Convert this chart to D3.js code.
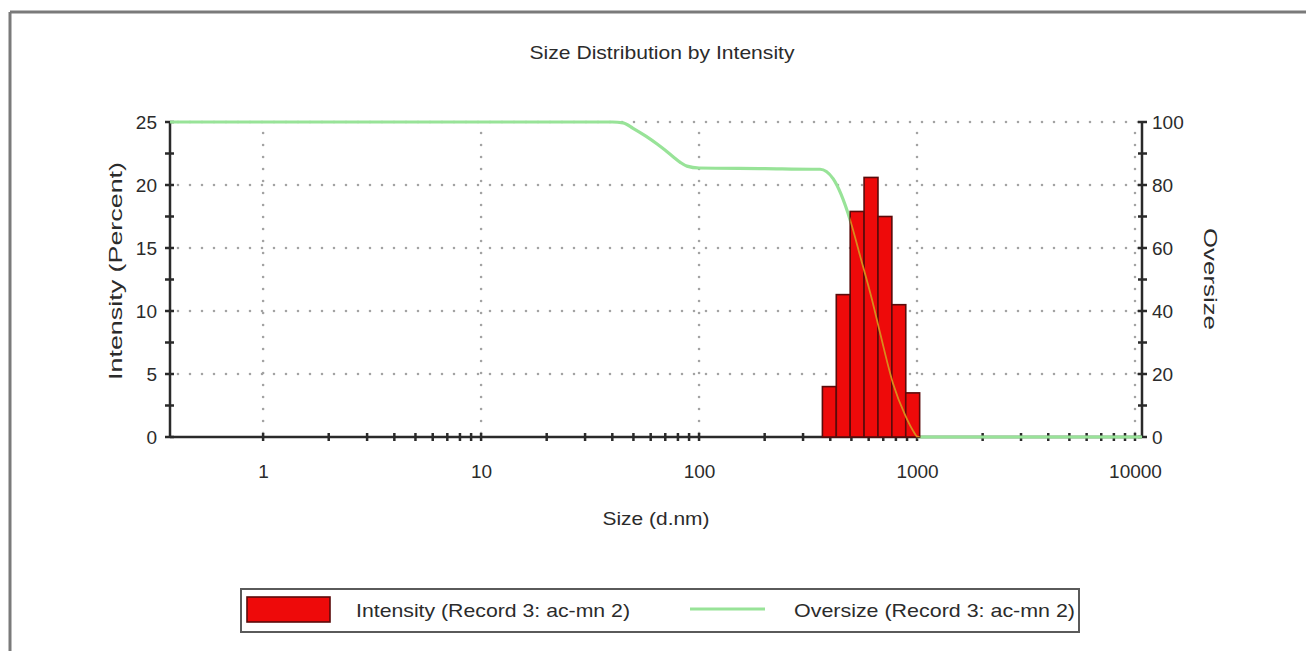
<!DOCTYPE html>
<html>
<head>
<meta charset="utf-8">
<script src="https://cdn.jsdelivr.net/npm/d3@7"></script>
<style>
  html, body { margin: 0; padding: 0; background: #fff; }
  svg { display: block; }
  text { font-family: "Liberation Sans", Arial, sans-serif; fill: #2b2b2b; }
</style>
</head>
<body>
<svg id="chart" width="1306" height="651"></svg>
<script>
// Intensity distribution: bin centre sizes (d.nm) and intensity (%)
const binSizes = [396.1, 458.7, 531.2, 615.1, 712.4, 825.0, 955.4];
const intensity = [4.0, 11.3, 17.9, 20.6, 17.5, 10.5, 3.5];

// Cumulative oversize curve: size (d.nm) and oversize (%)
const oversizeSizes = [0.374, 40, 44.8, 49.8, 57, 64.2, 70, 76, 82, 88, 100, 200, 330, 359, 412, 493, 548, 622, 677, 776, 881, 959, 1011, 2000, 10768];
const oversizeValues = [100, 100, 99.7, 98, 95.5, 93, 91, 89, 87.2, 86, 85.4, 85.2, 85, 85, 82, 69, 57.5, 43.5, 33, 17, 7, 2, 0, 0, 0];

// Axis ticks
const xLabelTicks = [1, 10, 100, 1000, 10000];
const yLeftTicks = [0, 5, 10, 15, 20, 25];
const yRightTicks = [0, 20, 40, 60, 80, 100];

const svg = d3.select("#chart");

const plotLeft = 170, plotRight = 1142, plotTop = 122, plotBottom = 437;
const x = d3.scaleLog().domain([0.374, 10768]).range([plotLeft, plotRight]);
const y = d3.scaleLinear().domain([0, 25]).range([plotBottom, plotTop]);
const y2 = d3.scaleLinear().domain([0, 100]).range([plotBottom, plotTop]);

// outer frame
svg.append("line").attr("x1", 10).attr("x2", 1306).attr("y1", 12).attr("y2", 12)
  .attr("stroke", "#7a7a7a").attr("stroke-width", 3);
svg.append("line").attr("x1", 10).attr("x2", 10).attr("y1", 12).attr("y2", 651)
  .attr("stroke", "#7a7a7a").attr("stroke-width", 3);

// title
svg.append("text").attr("x", 662).attr("y", 59).attr("text-anchor", "middle")
  .attr("font-size", 19).attr("textLength", 265).attr("lengthAdjust", "spacingAndGlyphs")
  .text("Size Distribution by Intensity");

// dotted grid
const grid = svg.append("g").attr("stroke", "#a3a3a3").attr("stroke-width", 2.6)
  .attr("stroke-linecap", "round").attr("stroke-dasharray", "0,12");
grid.selectAll("line.h").data(yLeftTicks.filter(d => d > 0)).join("line")
  .attr("x1", plotLeft + 8).attr("x2", plotRight).attr("y1", d => y(d)).attr("y2", d => y(d));
grid.selectAll("line.v").data(xLabelTicks).join("line")
  .attr("x1", d => x(d)).attr("x2", d => x(d)).attr("y1", plotBottom - 4).attr("y2", plotTop + 8);

// axis lines
const axisColor = "#2a2a2a";
svg.append("line").attr("x1", plotLeft).attr("x2", plotRight).attr("y1", plotBottom).attr("y2", plotBottom)
  .attr("stroke", axisColor).attr("stroke-width", 2.5);
svg.append("line").attr("x1", plotLeft).attr("x2", plotLeft).attr("y1", plotTop).attr("y2", plotBottom)
  .attr("stroke", axisColor).attr("stroke-width", 2.5);
svg.append("line").attr("x1", plotRight).attr("x2", plotRight).attr("y1", plotTop).attr("y2", plotBottom)
  .attr("stroke", axisColor).attr("stroke-width", 2.5);

// tick marks
const xMinor = [];
[1, 10, 100, 1000].forEach(dec => { for (let m = 1; m < 10; m++) xMinor.push(dec * m); });
xMinor.push(10000);
svg.append("g").selectAll("line").data(xMinor).join("line")
  .attr("x1", d => x(d)).attr("x2", d => x(d)).attr("y1", plotBottom - 4).attr("y2", plotBottom + 4)
  .attr("stroke", axisColor).attr("stroke-width", 2.5);
const yTickVals = d3.range(0, 25.01, 2.5);
svg.append("g").selectAll("line").data(yTickVals).join("line")
  .attr("x1", plotLeft - 5).attr("x2", plotLeft + 4).attr("y1", d => y(d)).attr("y2", d => y(d))
  .attr("stroke", axisColor).attr("stroke-width", 2.5);
const y2TickVals = d3.range(0, 100.1, 10);
svg.append("g").selectAll("line").data(y2TickVals).join("line")
  .attr("x1", plotRight - 4).attr("x2", plotRight + 5).attr("y1", d => y2(d)).attr("y2", d => y2(d))
  .attr("stroke", axisColor).attr("stroke-width", 2.5);

// axis labels via d3 axes
const fmt = d3.format("d");
const gx = svg.append("g").attr("transform", `translate(0,${plotBottom})`)
  .call(d3.axisBottom(x).tickValues(xLabelTicks).tickFormat(fmt).tickSize(0).tickPadding(28));
const gy = svg.append("g").attr("transform", `translate(${plotLeft},0)`)
  .call(d3.axisLeft(y).tickValues(yLeftTicks).tickFormat(fmt).tickSize(0).tickPadding(13));
const gy2 = svg.append("g").attr("transform", `translate(${plotRight},0)`)
  .call(d3.axisRight(y2).tickValues(yRightTicks).tickFormat(fmt).tickSize(0).tickPadding(10));
[gx, gy, gy2].forEach(g => {
  g.select(".domain").remove();
  g.selectAll("text").attr("font-size", 19).attr("font-family", "Liberation Sans, Arial, sans-serif").attr("fill", "#2b2b2b");
});

// axis titles
svg.append("text").attr("x", 656).attr("y", 525).attr("text-anchor", "middle")
  .attr("font-size", 19).attr("textLength", 107).attr("lengthAdjust", "spacingAndGlyphs")
  .text("Size (d.nm)");
svg.append("text").attr("transform", "translate(122,271) rotate(-90)").attr("text-anchor", "middle")
  .attr("font-size", 19).attr("textLength", 218).attr("lengthAdjust", "spacingAndGlyphs")
  .text("Intensity (Percent)");
svg.append("text").attr("transform", "translate(1204,279) rotate(90)").attr("text-anchor", "middle")
  .attr("font-size", 19).attr("textLength", 102).attr("lengthAdjust", "spacingAndGlyphs")
  .text("Oversize");

// bin edges as geometric midpoints between neighbouring centres
const edges = [];
for (let i = 0; i <= binSizes.length; i++) {
  if (i === 0) edges.push(binSizes[0] / Math.sqrt(binSizes[1] / binSizes[0]));
  else if (i === binSizes.length) edges.push(binSizes[i - 1] * Math.sqrt(binSizes[i - 1] / binSizes[i - 2]));
  else edges.push(Math.sqrt(binSizes[i - 1] * binSizes[i]));
}
const bins = binSizes.map((s, i) => ({ size: s, value: intensity[i], x0: edges[i], x1: edges[i + 1] }));

// oversize curve
const curvePts = oversizeSizes.map((s, i) => [x(s), y2(oversizeValues[i])]);
const line = d3.line().curve(d3.curveMonotoneX);

svg.append("path").attr("d", line(curvePts)).attr("fill", "none")
  .attr("stroke", "#98e398").attr("stroke-width", 3.2).attr("stroke-linejoin", "round");

// intensity bars
svg.append("g").selectAll("rect").data(bins).join("rect")
  .attr("x", d => x(d.x0)).attr("width", d => x(d.x1) - x(d.x0))
  .attr("y", d => y(d.value)).attr("height", d => y(0) - y(d.value))
  .attr("fill", "#ee0a0a").attr("stroke", "#5a0b0b").attr("stroke-width", 1.6);

// oversize curve where it crosses the bars
const clip = svg.append("clipPath").attr("id", "barsClip");
clip.selectAll("rect").data(bins).join("rect")
  .attr("x", d => x(d.x0)).attr("width", d => x(d.x1) - x(d.x0))
  .attr("y", d => y(d.value)).attr("height", d => y(0) - y(d.value));
svg.append("path").attr("d", line(curvePts)).attr("fill", "none")
  .attr("clip-path", "url(#barsClip)")
  .attr("stroke", "#d98a1c").attr("stroke-width", 1.8);

// legend
const lg = svg.append("g");
lg.append("rect").attr("x", 241).attr("y", 589).attr("width", 838).attr("height", 43)
  .attr("fill", "#fff").attr("stroke", "#5a5a5a").attr("stroke-width", 2);
lg.append("rect").attr("x", 247).attr("y", 597).attr("width", 83).attr("height", 25)
  .attr("fill", "#ee0a0a").attr("stroke", "#5a0b0b").attr("stroke-width", 1.6);
lg.append("text").attr("x", 356).attr("y", 617).attr("font-size", 19)
  .attr("textLength", 274).attr("lengthAdjust", "spacingAndGlyphs")
  .text("Intensity (Record 3: ac-mn 2)");
lg.append("line").attr("x1", 690).attr("x2", 765).attr("y1", 609).attr("y2", 609)
  .attr("stroke", "#98e398").attr("stroke-width", 3.2);
lg.append("text").attr("x", 794).attr("y", 617).attr("font-size", 19)
  .attr("textLength", 281).attr("lengthAdjust", "spacingAndGlyphs")
  .text("Oversize (Record 3: ac-mn 2)");
</script>
</body>
</html>
